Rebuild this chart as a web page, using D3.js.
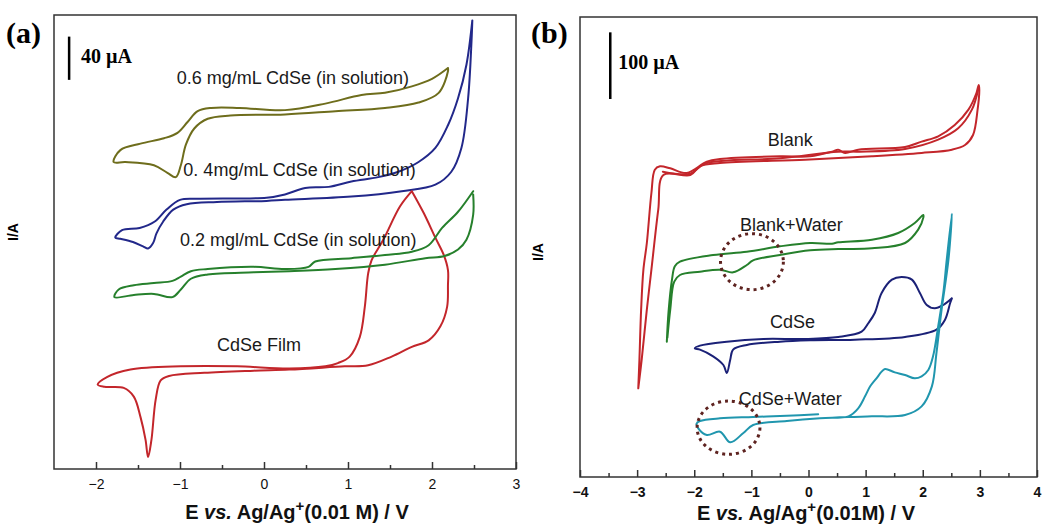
<!DOCTYPE html>
<html>
<head>
<meta charset="utf-8">
<script src="https://cdnjs.cloudflare.com/ajax/libs/d3/7.8.5/d3.min.js"></script>
<style>
body { margin: 0; background: #fff; }
svg { display: block; font-family: Arial, "Liberation Sans", sans-serif; }
</style>
</head>
<body>
<svg id="chart" width="1043" height="524"></svg>
<script>
// ---- panel (a) data: [E (V), I (uA, curves offset)] ----
var solution06 = [[2.19,371],[2.00,361],[1.76,354],[1.44,348],[1.16,346],[0.73,338],[0.25,332],[-0.29,334],[-0.63,334],[-0.79,331],[-0.91,321],[-1.03,311],[-1.19,306],[-1.47,301],[-1.71,295],[-1.79,284],[-1.65,284],[-1.31,281],[-1.15,274],[-1.05,270],[-0.99,281],[-0.93,300],[-0.83,315],[-0.67,324],[-0.40,327],[0.25,328],[0.85,331],[1.44,334],[1.84,339],[2.08,348],[2.19,368],[2.19,371]];
var solution04 = [[2.48,415],[2.41,374],[2.31,343],[2.19,318],[2.04,297],[1.84,284],[1.60,275],[1.36,270],[1.04,266],[0.77,261],[0.49,260],[0.25,254],[0.03,251],[-0.76,250],[-1.00,249],[-1.16,240],[-1.30,229],[-1.48,223],[-1.69,221],[-1.77,214],[-1.71,213],[-1.56,210],[-1.44,206],[-1.38,204],[-1.32,209],[-1.28,218],[-1.20,229],[-1.08,240],[-0.92,245],[-0.56,247],[0.03,248],[0.25,249],[1.04,252],[1.64,257],[2.04,263],[2.23,275],[2.35,297],[2.43,343],[2.47,395],[2.48,415]];
var solution02 = [[2.49,257],[2.31,238],[2.12,223],[1.96,207],[1.76,201],[1.44,198],[1.04,195],[0.61,192],[0.53,187],[0.25,185],[-0.12,187],[-0.67,185],[-0.87,183],[-0.99,178],[-1.09,174],[-1.31,172],[-1.55,170],[-1.73,166],[-1.78,159],[-1.55,161],[-1.31,162],[-1.09,159],[-0.99,166],[-0.87,176],[-0.67,180],[-0.12,182],[0.30,183],[0.85,185],[1.44,189],[1.92,195],[2.15,197],[2.31,203],[2.41,212],[2.49,235],[2.49,254]];
var film = [[1.76,257],[1.62,243],[1.42,212],[1.28,193],[1.24,181],[1.20,150],[1.14,122],[1.02,104],[0.88,98],[0.73,95],[0.30,93],[-0.32,95],[-0.99,95],[-1.59,92],[-1.87,85],[-1.98,78],[-1.90,76],[-1.67,75],[-1.55,67],[-1.47,48],[-1.41,27],[-1.38,11],[-1.34,27],[-1.29,64],[-1.23,82],[-1.13,86],[-0.71,89],[-0.12,91],[0.30,92],[0.96,95],[1.24,96],[1.52,104],[1.76,113],[1.96,119],[2.10,132],[2.18,150],[2.19,170],[2.19,184],[2.14,198],[2.04,214],[1.90,237],[1.76,257]];

// ---- panel (b) data ----
var blank1 = [[-2.98,133],[-2.96,176],[-2.93,251],[-2.89,311],[-2.83,351],[-2.75,426],[-2.69,461],[-2.60,466],[-2.42,463],[-2.13,456],[-1.78,473],[-1.55,477],[-0.50,481],[0.03,481],[0.41,488],[0.52,491],[0.64,486],[0.87,491],[1.69,495],[1.98,503],[2.27,511],[2.56,528],[2.80,551],[2.94,576],[2.98,588],[2.99,581],[2.96,551],[2.88,513],[2.74,498],[2.51,491],[1.98,486],[1.11,481],[-0.06,476],[-1.55,471],[-1.90,466],[-2.07,453],[-2.54,453],[-2.63,401],[-2.75,311],[-2.83,251],[-2.92,176],[-2.98,133]];
var blank2 = [[-2.55,458],[-2.07,455],[-1.81,470],[-0.50,478],[0.52,488],[0.90,488],[1.69,492],[2.27,506],[2.62,523],[2.86,551],[2.97,581]];
var blankWater = [[-2.48,203],[-2.45,248],[-2.39,296],[-2.34,316],[-2.25,323],[-1.67,333],[-1.08,338],[-0.50,346],[0.03,351],[0.41,350],[0.52,352],[1.11,356],[1.57,366],[1.86,381],[2.01,393],[2.01,389],[1.92,371],[1.69,351],[1.11,343],[0.52,342],[0.03,340],[-0.50,333],[-0.97,325],[-1.08,318],[-1.32,307],[-1.55,311],[-1.90,308],[-2.25,303],[-2.35,293],[-2.42,251],[-2.47,209]];
var cdse = [[2.51,268],[2.36,258],[2.21,253],[2.07,258],[1.95,276],[1.81,296],[1.63,300],[1.46,296],[1.28,276],[1.16,246],[1.05,231],[0.93,218],[0.52,210],[-0.06,207],[-0.79,207],[-1.43,203],[-1.90,197],[-1.99,193],[-1.90,191],[-1.67,181],[-1.49,168],[-1.43,156],[-1.37,176],[-1.32,191],[-1.08,198],[-0.50,203],[0.03,205],[0.81,206],[1.69,210],[2.24,221],[2.39,236],[2.48,261],[2.51,268]];
var cdseWater = [[0.17,94],[-0.38,92],[-0.97,90],[-1.55,88],[-1.90,84],[-1.96,80],[-1.93,73],[-1.78,63],[-1.55,68],[-1.37,52],[-1.14,66],[-0.97,78],[-0.38,84],[0.20,88],[0.70,90],[1.11,91],[1.69,93],[1.98,106],[2.16,136],[2.24,186],[2.33,251],[2.45,326],[2.51,395],[2.42,326],[2.36,276],[2.27,226],[2.18,181],[2.10,161],[1.98,151],[1.86,148],[1.69,153],[1.51,157],[1.34,162],[1.28,158],[1.19,148],[1.08,136],[0.99,121],[0.87,103],[0.70,91],[0.46,89]];

// dotted circles around the water features (centre E, centre I, radius E, radius I)
var circleE = [-0.99, -1.40];
var circleI = [323, 74];
var circleRE = [0.55, 0.55];
var circleRI = [42, 40];

// ticks
var majorA = [-2, -1, 0, 1, 2, 3];
var minorA = [-1.5, -0.5, 0.5, 1.5, 2.5];
var majorB = [-4, -3, -2, -1, 0, 1, 2, 3, 4];
var minorB = [-3.5, -2.5, -1.5, -0.5, 0.5, 1.5, 2.5, 3.5];

// labels [text, E, I]
var labelsA = [["0.6 mg/mL CdSe (in solution)", -1.04, 356], ["0. 4mg/mL CdSe (in solution)", -0.96, 271],
               ["0.2 mgl/mL CdSe (in solution)", -1.0, 206], ["CdSe Film", -0.56, 109]];
var labelsB = [["Blank", -0.32, 497], ["Blank+Water", -0.30, 369], ["CdSe", -0.28, 224], ["CdSe+Water", -0.32, 108]];

var svg = d3.select('#chart');
svg.append('rect').attr('width', 1043).attr('height', 524).attr('fill', '#fff');

var xA = d3.scaleLinear().domain([-2.5, 3]).range([54, 516]);
var yA = d3.scaleLinear().domain([0, 420]).range([469, 15]);
var xB = d3.scaleLinear().domain([-4, 4]).range([580, 1037]);
var yB = d3.scaleLinear().domain([0, 690]).range([477, 17]);

function drawCurve(g, x, y, data, color) {
    var line = d3.line()
        .x(function(d){ return x(d[0]); })
        .y(function(d){ return y(d[1]); })
        .curve(d3.curveCatmullRom.alpha(0.5));
    g.append('path')
        .attr('d', line(data))
        .attr('fill', 'none')
        .attr('stroke', color)
        .attr('stroke-width', 2)
        .attr('stroke-linejoin', 'round')
        .attr('stroke-linecap', 'round');
}

function drawFrame(x, y, major, minor, bold) {
    var r = x.range(), t = y.range();
    var bottom = t[0];
    var ax = svg.append('g').attr('transform', 'translate(0,' + bottom + ')')
        .call(d3.axisBottom(x).tickValues(major).tickSizeInner(-7).tickSizeOuter(0).tickPadding(10)
            .tickFormat(d3.format('d')));
    ax.select('.domain').remove();
    ax.selectAll('line').attr('stroke', '#333').attr('stroke-width', 1.5);
    ax.selectAll('text').attr('font-size', 14).attr('font-weight', bold ? 'bold' : 'normal')
        .attr('fill', '#111').attr('font-family', 'Arial, "Liberation Sans", sans-serif');
    var mn = svg.append('g').attr('transform', 'translate(0,' + bottom + ')')
        .call(d3.axisBottom(x).tickValues(minor).tickSizeInner(-4).tickSizeOuter(0).tickFormat(''));
    mn.select('.domain').remove();
    mn.selectAll('line').attr('stroke', '#333').attr('stroke-width', 1.5);
    svg.append('rect')
        .attr('x', r[0]).attr('y', t[1])
        .attr('width', r[1] - r[0]).attr('height', t[0] - t[1])
        .attr('fill', 'none').attr('stroke', '#333').attr('stroke-width', 1.5);
}

function xTitle(cx, baseline, space) {
    var t = svg.append('text').attr('x', cx).attr('y', baseline)
        .attr('text-anchor', 'middle').attr('font-weight', 'bold').attr('font-size', 20).attr('fill', '#111');
    t.append('tspan').text('E ');
    t.append('tspan').attr('font-style', 'italic').text('vs.');
    t.append('tspan').text(' Ag/Ag');
    t.append('tspan').attr('dy', -8).attr('font-size', 15).text('+');
    t.append('tspan').attr('dy', 8).text('(0.01' + space + 'M) / V');
}

function scaleBar(x, y, e, i0, label) {
    svg.append('line')
        .attr('x1', x(e)).attr('x2', x(e))
        .attr('y1', y(i0)).attr('y2', y(i0 + label[0]))
        .attr('stroke', '#000').attr('stroke-width', 2.5);
    svg.append('text')
        .attr('x', x(label[1])).attr('y', y(label[2]))
        .attr('font-family', '"Liberation Serif", "Times New Roman", serif')
        .attr('font-weight', 'bold').attr('font-size', 20).attr('fill', '#000')
        .text(label[3]);
}

// ---------- panel (a) ----------
drawFrame(xA, yA, majorA, minorA, false);
var gA = svg.append('g');
drawCurve(gA, xA, yA, solution06, '#6e6d1c');
drawCurve(gA, xA, yA, solution04, '#22288a');
drawCurve(gA, xA, yA, film, '#c3262b');
drawCurve(gA, xA, yA, solution02, '#26802c');

labelsA.forEach(function(l) {
    svg.append('text').attr('x', xA(l[1])).attr('y', yA(l[2]))
        .attr('font-size', 18).attr('fill', '#1a1a1a').text(l[0]);
});
scaleBar(xA, yA, -2.32, 360, [40, -2.18, 376, '40 \u00b5A']);
svg.append('text').attr('x', 6).attr('y', 43)
    .attr('font-family', '"Liberation Serif", "Times New Roman", serif')
    .attr('font-weight', 'bold').attr('font-size', 30).text('(a)');
svg.append('text').attr('transform', 'translate(18,232) rotate(-90)')
    .attr('text-anchor', 'middle').attr('font-weight', 'bold').attr('font-size', 14).text('I/A');
xTitle(297, 519, ' ');

// ---------- panel (b) ----------
drawFrame(xB, yB, majorB, minorB, true);
var gB = svg.append('g');
drawCurve(gB, xB, yB, blank1, '#c3262b');
drawCurve(gB, xB, yB, blank2, '#c3262b');
drawCurve(gB, xB, yB, blankWater, '#26802c');
drawCurve(gB, xB, yB, cdse, '#1b2177');
drawCurve(gB, xB, yB, cdseWater, '#2096ae');

circleE.forEach(function(e, i) {
    svg.append('ellipse')
        .attr('cx', xB(e)).attr('cy', yB(circleI[i]))
        .attr('rx', xB(e + circleRE[i]) - xB(e))
        .attr('ry', yB(0) - yB(circleRI[i]))
        .attr('fill', 'none').attr('stroke', '#5e2320')
        .attr('stroke-width', 3).attr('stroke-dasharray', '3,4');
});

labelsB.forEach(function(l) {
    svg.append('text').attr('x', xB(l[1])).attr('y', yB(l[2]))
        .attr('text-anchor', 'middle').attr('font-size', 18).attr('fill', '#1a1a1a').text(l[0]);
});
scaleBar(xB, yB, -3.47, 567, [100, -3.33, 612, '100 \u00b5A']);
svg.append('text').attr('x', 531).attr('y', 43)
    .attr('font-family', '"Liberation Serif", "Times New Roman", serif')
    .attr('font-weight', 'bold').attr('font-size', 30).text('(b)');
svg.append('text').attr('transform', 'translate(543,252) rotate(-90)')
    .attr('text-anchor', 'middle').attr('font-weight', 'bold').attr('font-size', 14).text('I/A');
xTitle(806, 520, '');
</script>
</body>
</html>
